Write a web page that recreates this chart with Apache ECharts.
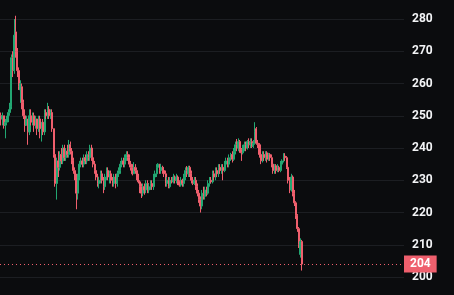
<!DOCTYPE html>
<html>
<head>
<meta charset="utf-8">
<style>
html,body{margin:0;padding:0;background:#0b0c0e;}
#chart{width:454px;height:295px;}
</style>
<script src="https://cdn.jsdelivr.net/npm/echarts@6/dist/echarts.min.js"></script>
</head>
<body>
<div id="chart"></div>
<script>
// Candle values (index = bar number)
const opens = [250,249,250,247,248,249,251,253,268,264,276,270,264,258,259,254,250,247,249,245,
250,248,250,247,249,246,249,246,248,245,251,250,252,250,251,246,238,229,236,234,
238,236,240,237,239,238,241,239,236,233,231,226,231,235,236,235,237,236,238,237,
240,237,235,233,231,229,230,232,230,228,231,233,231,232,230,229,231,229,232,233,
235,236,235,237,238,237,235,234,232,234,233,231,229.5,228,226,228,227,229,227,228,
229,228,231,232,234,235,233,234,233,232,229,230,228,230,229.5,231,230,231,229.5,228.5,
230,229,231,233,232,234,232,230,229,230,228,226,224,222,226,225,227,226,229,230,
229.5,232,231,233,232,234,233,234,233,235,236,235,237,238,236.5,239,241,240,242,239.5,
238.5,240,241,240,242,241,242,240.5,241.5,246,241.5,241,238,236,238,237,238.5,236.5,238,237,
235,233,234.5,233,234,233,235,236,237.5,237,234,230,227,231,226,223,219,215,207,211];
const closes = [249,250,247,248,249,251,253,268,264,275,270,264,259,260,254,250,247,249,245,250,
248,250,247,249,246,249,246,248,245,251,250,252,250,251,246,238,229,236,234,238,
236,240,237,239,238,241,239,236,233,231,226,231,235,236,235,237,236,238,237,240,
237,235,233,231,229,230,232,230,228,231,233,231,232,230,229,231,229,232,233,235,
236,235,237,238,237,235,234,232,234,233,231,229.5,228,226,228,227,229,227,228,229,
228,231,232,234,235,233,234,233,232,229,230,228,230,229.5,231,230,231,229.5,228.5,230,
229,231,233,232,234,232,230,229,230,228,226,224,222,226,225,227,226,229,230,229.5,
232,231,233,232,234,233,234,233,235,236,235,237,238,236.5,239,241,240,242,239.5,238.5,
240,241,240,242,241,242,240.5,241.5,245,241.5,241,238,236,238,237,238.5,236.5,238,237,235,
233,234.5,233,234,233,235,236,237.5,237,234,230,227,231,226,223,219,215,210,211,204];
const lows = [247,247,246,243,247,248,250,252,262,263,268,262,258,254,252,249,245,247,241,244,
247,247,245,246,244,245,243,242,244,244,249,249,249,249,245,237,228,224,231,233,
235,235,236,236,237,237,238,235,232,230,221,224,230,234,234,234,235,235,236,236,
236,234,232,230,228,227.5,229,229,226,227,230,230,229,229,228,228,227.5,228,231,232,
234,234,234,236,236,234,233,231.5,232,232,230,229,226,224.5,225,225.5,226,226,226,227,
227,227,230,231,233,232,232,232,231,228,228,227.5,227.5,229,229,229,229,228.5,228,228,
228,228,230,231,231,231,229,228.5,228.5,227,225,223,220,221,224,224,225,225.5,228,229,
229,230,230,231,231,232,232,230,232.5,234,234,234,236,235.5,236,238,239,239,238.5,236,
238,239,239,239.5,240,240,240,240,241,241,240,237,235,235.5,236,236,235.5,236,236,234,
232,232,232,232.5,232.5,232.5,234,235.5,236,233.5,229,226,226.5,225,222,218,214,209,206,202];
const highs = [251,251,250,249,250,252,254,269,270,280,281,271,265,261,260,255,252,250,249,252,
252,251,251,250,249,250,250,248,249,252,252,254,253,252,252,246,239,237,239,239,
240,241,241,240,241,242.5,242,240,237,234,232,232,236,237,237,238,238,239,239,241,
241,238,236,234,232,231,233,233,231,232,234,234,233,233,231,232,232,233,234,236,
237,237,238,239,239,238,236,235,235.6,235,234,232,230,229,229,229,230,230,229,230,
230,232,233,235,235.3,235,235,234.5,234,233,231,231,231,231,232,231.5,232,231.5,230,231,
230.5,232,234,234.4,234.5,234.5,233,231,231,231,229,227,225,227,228,228,228,230,231,231,
233,233,234,234,235,235,235,235,236,237,237,238,238.5,239,240,242,242.8,243,242.5,240,
241,242,242,242.5,243,243,243,242.5,248,246.5,242.5,241.5,239,239,239,239,239,238.5,238.4,238,
236,235,235,235,234.5,236,236.5,238.4,238.4,237.5,234.5,231,232,231.5,227,223.5,219.5,215.5,212,211.5];
const lastPrice = 204;
const yTicks = [200, 210, 220, 230, 240, 250, 260, 270, 280];
const totalSlots = 267; // chart leaves empty room on the right of the last bar

const categories = [];
for (let i = 0; i < totalSlots; i++) categories.push(String(i + 1));
const candleData = opens.map((o, i) => [o, closes[i], lows[i], highs[i]]);

const UP = '#22a772';
const DOWN = '#ef5f6d';

const chart = echarts.init(document.getElementById('chart'), null, {renderer: 'canvas'});
chart.setOption({
  backgroundColor: '#0b0c0e',
  animation: false,
  grid: {left: 0, right: 50, top: 19, bottom: 18},
  xAxis: {
    type: 'category',
    data: categories,
    boundaryGap: true,
    axisLine: {show: false},
    axisTick: {show: false},
    axisLabel: {show: false},
    splitLine: {show: false}
  },
  yAxis: {
    type: 'value',
    position: 'right',
    min: yTicks[0],
    max: yTicks[yTicks.length - 1],
    interval: 10,
    axisLine: {show: false},
    axisTick: {show: false},
    axisLabel: {
      color: '#f2f3f5',
      fontSize: 12,
      fontWeight: 'bold',
      fontFamily: 'Roboto, sans-serif',
      margin: 8
    },
    splitLine: {lineStyle: {color: '#1c1e22', width: 1}}
  },
  series: [{
    type: 'candlestick',
    data: candleData,
    barWidth: '100%',
    clip: false,
    itemStyle: {
      color: UP,
      color0: DOWN,
      borderColor: UP,
      borderColor0: DOWN,
      borderWidth: 1
    },
    markLine: {
      silent: true,
      symbol: ['none', 'none'],
      data: [{yAxis: lastPrice}],
      lineStyle: {color: DOWN, type: [1, 3], width: 1},
      label: {
        show: true,
        position: 'end',
        distance: 0,
        formatter: String(lastPrice),
        color: '#ffffff',
        backgroundColor: DOWN,
        fontSize: 12,
        fontWeight: 'bold',
        fontFamily: 'Roboto, sans-serif',
        padding: [3, 6, 2, 6]
      }
    }
  }]
});
</script>
</body>
</html>
